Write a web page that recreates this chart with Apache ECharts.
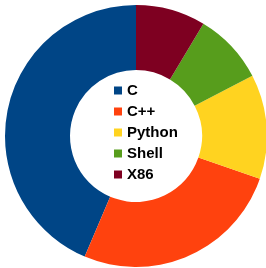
<!DOCTYPE html>
<html><head><meta charset="utf-8">
<script src="https://cdn.jsdelivr.net/npm/echarts@6/dist/echarts.min.js"></script>
<style>html,body{margin:0;padding:0;background:#fff}#c{width:266px;height:268px}</style>
</head><body><div id="c"></div>
<script>
const categories = ['C', 'C++', 'Python', 'Shell', 'X86'];
const values = [43.6, 26.1, 12.9, 8.8, 8.6];
const colors = ['#004586', '#ff420e', '#ffd320', '#579d1c', '#7e0021'];
const chart = echarts.init(document.getElementById('c'));
chart.setOption({
  animation: false,
  color: colors,
  legend: {
    orient: 'vertical', left: 109, top: 78, padding: 5,
    icon: 'rect', itemWidth: 8, itemHeight: 8, itemGap: 6, itemTextGap: 6,
    textStyle: { fontFamily: 'Liberation Sans', fontWeight: 'bold', fontSize: 15, color: '#000' },
    data: categories
  },
  series: [{
    type: 'pie', center: [136, 136], radius: [66, 131],
    startAngle: 90, clockwise: false,
    label: { show: false }, labelLine: { show: false },
    emphasis: { disabled: true },
    data: categories.map((n, i) => ({ name: n, value: values[i] }))
  }]
});
</script></body></html>
